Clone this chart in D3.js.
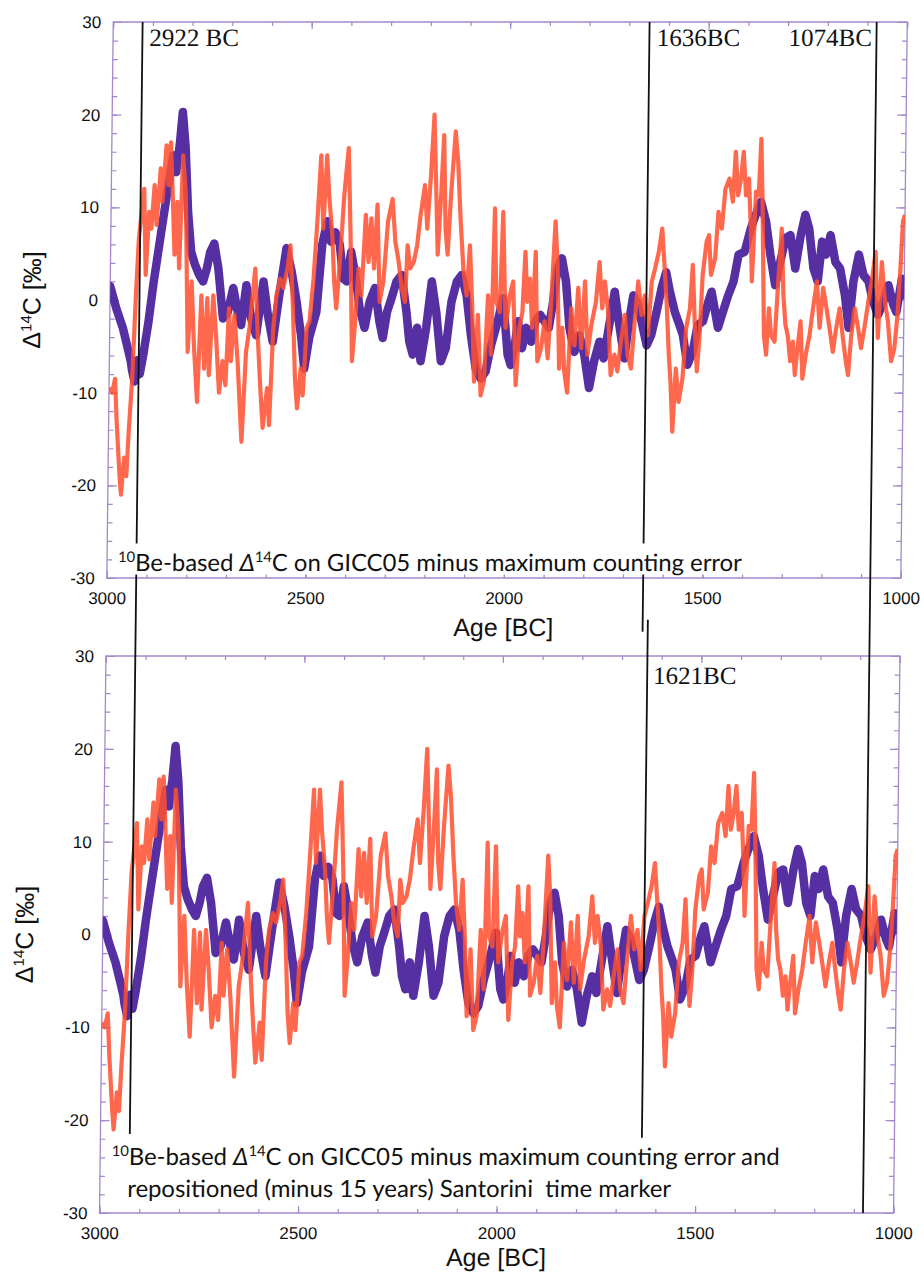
<!DOCTYPE html>
<html><head><meta charset="utf-8">
<script src="https://cdn.jsdelivr.net/npm/d3@7"></script>
<style>body{margin:0;background:#fff}svg{display:block}</style>
</head><body>
<svg id="chart" width="924" height="1274"></svg>
<script>
// ---- data ----
const purpleYears=[3000,2984,2967,2954,2946,2943,2936,2930,2923,2915,2903,2891,2879,2866,2855,2845,2837,2829,2822,2814,2806,2797,2787,2776,2766,2757,2749,2739,2728,2715,2703,2690,2680,2669,2657,2644,2631,2614,2602,2589,2574,2557,2543,2530,2518,2509,2497,2480,2467,2455,2445,2434,2423,2413,2404,2394,2383,2371,2358,2346,2333,2321,2312,2302,2291,2279,2266,2253,2245,2236,2226,2216,2203,2190,2178,2165,2153,2140,2127,2115,2102,2090,2077,2064,2052,2039,2023,2010,1997,1989,1980,1972,1961,1951,1938,1928,1916,1905,1894,1884,1874,1863,1852,1842,1829,1817,1804,1791,1779,1766,1755,1743,1729,1718,1703,1692,1682,1670,1657,1647,1636,1623,1611,1600,1590,1577,1565,1556,1544,1531,1519,1506,1493,1485,1468,1456,1443,1430,1418,1403,1388,1376,1363,1350,1338,1325,1313,1300,1288,1275,1262,1251,1241,1229,1218,1208,1198,1187,1174,1162,1149,1139,1128,1115,1103,1090,1078,1065,1052,1040,1027,1019,1006,1000];
const purpleValues=[1.5,-0.9,-3,-5.2,-6.6,-7.5,-8.8,-6.5,-8,-6,-2.5,1.8,5.5,9.5,12.8,15.6,13.8,16.7,20.3,16.5,9.5,5.2,3.8,2.7,2,3.4,5.2,6.1,3.4,-2,-1.3,1.3,-0.9,-2.7,1.6,-2,-3.8,2,-1.6,-4.5,0.5,5.6,3,-0.2,-3.8,-7.4,-4,-1.3,6,8.5,6.3,7.3,6,2.3,2,5.2,2.7,-0.9,-3,-0.2,1.3,-2.3,-4.1,-1.3,0.2,2,2.7,-1.3,-4.5,-5.9,-3,-6.6,-3,2,-1.3,-6.6,-5.2,-0.2,2,2.7,0.5,-3.8,-7.4,-8.5,-7.7,-4.9,-2.3,0.2,-5.9,-7,-5.2,-2.3,-5.2,-3,-4.5,-2.3,-1.6,-2.3,-3,-0.2,3.4,4.5,2,-3,-5.6,-3.8,-5.9,-9.5,-6.6,-4.5,-6.3,-3,0.9,-2.3,-6.3,-2.3,0.5,-0.5,-3,-4.9,-3.8,-1.3,1.3,3,0.9,-1.3,-2.7,-3.8,-7,-5.6,-2.7,-2.3,-0.2,0.9,-3,-1.3,0.5,2,4.9,5.2,7.7,9.2,10.6,8.5,4.9,1.6,4.1,6.7,7,3.4,7,9.2,7.7,3.4,2,6.3,4.9,7,4.1,3.4,0.5,-3,2,4.9,2.7,2,-0.2,-1.6,-0.2,1.6,-0.5,-1.3,2.3,0.5];

const orangeYears=[3000,2992,2985,2980,2971,2967,2960,2954,2949,2942,2935,2929,2917,2911,2904,2898,2891,2885,2876,2871,2862,2856,2851,2845,2839,2833,2827,2820,2812,2803,2795,2787,2778,2770,2761,2755,2749,2740,2732,2723,2715,2707,2700,2694,2686,2677,2665,2656,2648,2635,2627,2619,2612,2602,2596,2588,2581,2572,2564,2554,2547,2539,2532,2526,2518,2512,2504,2497,2488,2480,2472,2465,2457,2451,2442,2436,2430,2421,2413,2403,2396,2389,2383,2375,2367,2358,2350,2344,2336,2329,2321,2312,2302,2291,2283,2274,2266,2257,2252,2245,2236,2228,2220,2210,2203,2195,2188,2181,2176,2169,2163,2157,2151,2144,2134,2127,2119,2111,2102,2095,2088,2081,2073,2064,2056,2048,2039,2033,2027,2018,2012,2003,1993,1985,1976,1968,1961,1955,1949,1943,1936,1929,1922,1913,1905,1896,1888,1880,1874,1867,1860,1854,1846,1838,1829,1821,1812,1804,1796,1787,1776,1768,1760,1754,1745,1737,1728,1720,1712,1703,1695,1686,1678,1670,1661,1653,1644,1636,1628,1619,1611,1605,1598,1591,1586,1580,1573,1565,1556,1548,1539,1533,1526,1520,1514,1508,1499,1493,1487,1477,1470,1461,1453,1443,1434,1428,1421,1414,1408,1401,1394,1388,1384,1376,1369,1364,1359,1352,1346,1340,1334,1325,1317,1310,1304,1298,1292,1285,1279,1273,1267,1260,1254,1246,1237,1229,1220,1212,1204,1195,1187,1178,1170,1162,1153,1145,1139,1132,1124,1115,1107,1099,1090,1082,1073,1065,1057,1048,1040,1031,1023,1016,1010,1005,1000];
const orangeValues=[-9.5,-10,-8.5,-13,-19,-21,-17,-19,-14,-8.5,0.5,6.7,12,2.7,9.5,7.7,12.4,8.1,14.2,10.6,16.7,12.4,17,11.3,4.9,10.6,3.4,15.6,11.3,-5.6,2,-5.2,-11,0.5,-7.4,0.2,-8.1,0.5,-3.8,-10,-6.6,-9.2,-0.9,-6.6,-1.6,-6.6,-15.3,-5.6,-3,3.4,-3.8,-9.5,-13.8,-9.5,-13.5,-3,0.5,2.3,1.3,3.4,5.9,-0.9,-8.5,-11.7,-7.4,-10.3,-3,-2.3,2.3,8.5,15.6,7.7,15.6,11.3,7,2,-0.9,4.9,11.3,16.4,7,-6.6,-3,3.4,0.5,9.2,4.1,8.8,3.4,10.3,-0.2,2,8.5,10.9,6.3,4.1,1.3,-0.2,5.9,3.4,4.1,5.9,9.2,12.4,7.7,13.5,20,11.3,4.9,11.3,17.8,7.7,4.9,11.3,18.2,14.9,8.5,3.4,0.5,5.9,-0.2,-8.8,-1.6,-10.3,-8.8,0.5,-5.9,9.9,-0.2,-1.3,9.5,-3,0.5,2,-9.2,-3,-1.3,5.2,-0.2,2.3,-3,5.2,-6.6,-5.2,-2.3,-6.3,0.5,8.5,4.1,-7.4,-3,-7.7,-10,-0.9,-4.9,1.3,-5.2,2,-5.9,-2.7,-0.2,4.1,-0.9,2,-1.3,-8.1,-5.9,-7.7,-4.5,-1.6,-5.9,-7.4,-2.3,2,-1.6,0.5,-3.8,2,3.4,5.2,7.7,4.1,-0.2,-5.9,-8.8,-14.2,-7.4,-11,-8.5,-3,-0.9,3.8,-3,-7.7,-3.8,2.7,6.3,7,2.7,4.5,9.5,7.7,12,13.1,10.6,16,11.3,13.1,16,11.3,13.1,7.7,2,11.7,11.3,17.4,10.3,-3.8,-5.9,-0.9,-3.8,-4.5,2.3,7.7,0.5,-2.7,-3.8,-6.6,-4.5,-8.1,-5.2,-2.3,-8.5,-5.9,-3.8,-0.9,2,-3,1.3,-0.9,-3,-5.6,-3,-0.9,-4.1,-6.6,-8.1,-3.8,-0.9,-3,-5.2,-3,-0.2,2,5.2,-4.1,4.1,-0.2,-2.3,-6.6,-5.2,-1.6,3.4,8.5,9.2];

const xMajorTicks=[3000,2500,2000,1500,1000];
const yMajorTicks=[30,20,10,0,-10,-20,-30];
const markerYears=[2926,1649,1636,1077];
const markerLabels=["2922 BC","1636BC","1621BC","1074BC"];
const captionTop=["Be-based ","C on GICC05 minus maximum counting error"];
const captionBottom=["Be-based ","C on GICC05 minus maximum counting error and","repositioned (minus 15 years) Santorini  time marker"];

// ---- layout ----
const svg=d3.select("#chart");
const root=svg.append("g").attr("transform","skewX(-0.66)");
const x=d3.scaleLinear().domain([3000,1000]).range([113.5,907.5]);
const panels=[{top:22,bottom:578,titleDy:58},{top:656,bottom:1213,titleDy:53}];
panels.forEach(p=>{p.y=d3.scaleLinear().domain([-30,30]).range([p.bottom,p.top]);});

const frameColor="#a487cc";
const purpleData=d3.zip(purpleYears,purpleValues);
const orangeData=d3.zip(orangeYears,orangeValues);
const sans="'Liberation Sans', Arial, sans-serif";
const serif="'Liberation Serif','Times New Roman', serif";
const fmt=d=>String(d);

panels.forEach((p,i)=>{
  const g=root.append("g");
  const y=p.y;
  g.append("clipPath").attr("id","clip"+i).append("rect")
    .attr("x",x(3000)).attr("y",p.top).attr("width",x(1000)-x(3000)).attr("height",p.bottom-p.top);
  const minorX=d3.range(3000,999,-100), minorY=d3.range(-30,31,2);
  const addAxis=(axis,tr)=>{
    const a=g.append("g").attr("transform",tr).call(axis);
    a.select(".domain").remove();
    a.selectAll("line").attr("stroke",frameColor).attr("stroke-width",1.2);
    a.selectAll("text").attr("font-family",sans).attr("font-size",17).attr("fill","#111");
    return a;
  };
  addAxis(d3.axisBottom(x).tickValues(minorX).tickSize(-4).tickFormat(""),`translate(0,${p.bottom})`);
  addAxis(d3.axisBottom(x).tickValues(xMajorTicks).tickSize(-7).tickPadding(14).tickFormat(fmt),`translate(0,${p.bottom})`);
  addAxis(d3.axisTop(x).tickValues(minorX).tickSize(-4).tickFormat(""),`translate(0,${p.top})`);
  addAxis(d3.axisTop(x).tickValues(xMajorTicks).tickSize(-7).tickFormat(""),`translate(0,${p.top})`);
  addAxis(d3.axisLeft(y).tickValues(minorY).tickSize(-5).tickFormat(""),`translate(${x(3000)},0)`);
  addAxis(d3.axisLeft(y).tickValues(yMajorTicks).tickSize(-9).tickPadding(12).tickFormat(fmt),`translate(${x(3000)},0)`);
  addAxis(d3.axisRight(y).tickValues(minorY).tickSize(-5).tickFormat(""),`translate(${x(1000)},0)`);
  addAxis(d3.axisRight(y).tickValues(yMajorTicks).tickSize(-9).tickFormat(""),`translate(${x(1000)},0)`);
  g.append("rect").attr("x",x(3000)).attr("y",p.top).attr("width",x(1000)-x(3000)).attr("height",p.bottom-p.top)
    .attr("fill","none").attr("stroke",frameColor).attr("stroke-width",1.3);

  const line=d3.line().x(d=>x(d[0])).y(d=>y(d[1]));
  const data=g.append("g").attr("clip-path",`url(#clip${i})`);
  data.append("path").datum(purpleData).attr("d",line).attr("fill","none")
    .attr("stroke","#5630a3").attr("stroke-width",8.5).attr("stroke-linejoin","round").attr("stroke-linecap","round");
  data.append("path").datum(orangeData).attr("d",line).attr("fill","none")
    .attr("stroke","#ff4f2e").attr("stroke-opacity",0.86).attr("stroke-width",4.2).attr("stroke-linejoin","round");

  g.append("text").attr("x",(x(3000)+x(1000))/2).attr("y",p.bottom+p.titleDy).attr("text-anchor","middle")
    .attr("font-family",sans).attr("font-size",25).attr("fill","#111").text("Age [BC]");
  const yt=g.append("text").attr("transform",`translate(44,${(p.top+p.bottom)/2}) rotate(-90)`)
    .attr("text-anchor","middle").attr("font-family",sans).attr("font-size",25).attr("fill","#111");
  yt.append("tspan").text("Δ");
  yt.append("tspan").attr("dy",-9).attr("font-size",15).text("14");
  yt.append("tspan").attr("dy",9).text("C [‰]");
});

// ---- marker lines (panel, value) -> (panel, value) ----
const markerSpans=[[0,30,1,-21.5],[0,30,1,32.6],[1,33.9,1,-22.1],[0,30,1,-30]];
markerSpans.forEach((s,i)=>{
  root.append("line").attr("x1",x(markerYears[i])).attr("x2",x(markerYears[i]))
    .attr("y1",panels[s[0]].y(s[1])).attr("y2",panels[s[2]].y(s[3]))
    .attr("stroke","#111").attr("stroke-width",1.8);
});
const labelPanel=[0,0,1,0], labelValue=[27.4,27.4,27,27.4], labelAnchor=["start","start","start","end"], labelDx=[7,7.5,6,-4.5];
markerLabels.forEach((t,i)=>{
  root.append("text").attr("x",x(markerYears[i])+labelDx[i]).attr("y",panels[labelPanel[i]].y(labelValue[i]))
    .attr("text-anchor",labelAnchor[i]).attr("font-family",serif).attr("font-size",25).attr("fill","#111").text(t);
});

// ---- captions with white background ----
function makeCaption(lines,px,baselines,indent,targetW){
  const g=root.append("g");
  const bg=g.append("rect").attr("fill","#fff");
  let fs=23;
  const build=()=>{
    g.selectAll("text").remove();
    const t=g.append("text").attr("font-family","Lato, 'Open Sans', sans-serif").attr("font-size",fs)
      .attr("fill","#111").style("white-space","pre");
    const a=t.append("tspan").attr("x",px).attr("y",baselines[0]);
    const sup=fs*0.62;
    a.append("tspan").attr("font-size",sup).attr("dy",-fs*0.38).text("10");
    a.append("tspan").attr("dy",fs*0.38).text(lines[0]);
    a.append("tspan").attr("font-style","italic").text("Δ");
    a.append("tspan").attr("font-size",sup).attr("dy",-fs*0.38).text("14");
    a.append("tspan").attr("dy",fs*0.38).text(lines[1]);
    if(lines[2]) t.append("tspan").attr("x",px+indent).attr("y",baselines[1]).text(lines[2]);
    return t;
  };
  let t=build();
  const first=t.select("tspan").node().getComputedTextLength();
  fs=fs*targetW/first;
  t=build();
  const bb=t.node().getBBox();
  bg.attr("x",bb.x-4).attr("y",bb.y-3).attr("width",bb.width+8).attr("height",bb.height+2);
}
makeCaption(captionTop,x(3000)+11,[panels[0].y(-29.2)],0,624);
makeCaption(captionBottom,x(3000)+11.5,[panels[1].y(-24.8),panels[1].y(-28.3)],16,668);
</script>
</body></html>
